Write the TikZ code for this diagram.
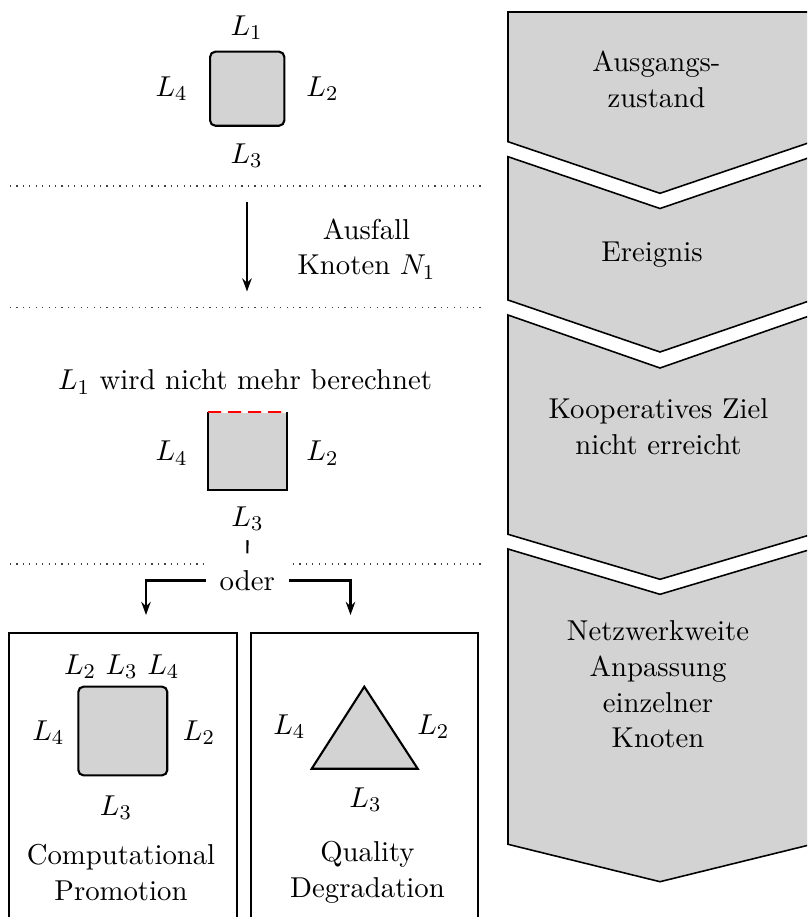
\documentclass[tikz,border=0pt]{standalone}
\usetikzlibrary{arrows.meta}
\definecolor{boxgray}{RGB}{211,211,211}
\begin{document}
\begin{tikzpicture}[x=0.381pt,y=-0.381pt,
  every node/.style={font=\fontsize{10.95}{13.6}\selectfont},
  lbl/.style={inner sep=1pt},
  txt/.style={align=center,inner sep=1pt},
  chev/.style={fill=boxgray,draw=black,line width=0.6pt,line join=miter},
  sep/.style={dotted,line width=0.45pt,black!75},
  arr/.style={line width=0.8pt,-{Stealth[length=5pt,width=3.6pt]}},
  conn/.style={line width=0.8pt},
  frame/.style={draw=black,line width=0.7pt},
  shapebox/.style={fill=boxgray,line width=0.8pt,inner sep=0pt}
]
\path[use as bounding box] (0,0) rectangle (807,917);
\clip (0,0) rectangle (807,917);

% ---------------- right column: chevrons ----------------
\draw[chev] (508,12) -- (812,12) -- (812,141.7) -- (660,193.3) -- (508,141.7) -- cycle;
\draw[chev] (508,156.7) -- (660,208.5) -- (812,156.7) -- (812,300) -- (660,352) -- (508,300) -- cycle;
\draw[chev] (508,315) -- (660,368) -- (812,315) -- (812,534.3) -- (660,579.3) -- (508,534.3) -- cycle;
\draw[chev] (508,549) -- (660,594.3) -- (812,549) -- (812,844.3) -- (660,881.7) -- (508,844.3) -- cycle;

\node[txt] (c1) at (656.5,79.5) {Ausgangs-\\zustand};
\node[txt] (c2) at (652,255) {Ereignis};
\node[txt] (c3) at (658.5,427) {Kooperatives Ziel\\nicht erreicht};
\node[txt] (c4) at (658,684.5) {Netzwerkweite\\Anpassung\\einzelner\\Knoten};

% ---------------- separators ----------------
\draw[sep] (10,186) -- (485,186);
\draw[sep] (10,307.3) -- (485,307.3);
\draw[sep] (10,564) -- (485,564);

% ---------------- initial state ----------------
\node[shapebox,draw,rounded corners=2pt,minimum width=28.3pt,minimum height=28.2pt] (sq1) at (247.2,88.7) {};
\node[lbl] (l1a) at (246.7,27.5) {$L_1$};
\node[lbl] (l4a) at (171.7,89) {$L_4$};
\node[lbl] (l2a) at (322.5,89) {$L_2$};
\node[lbl] (l3a) at (246.7,155.7) {$L_3$};

% ---------------- event ----------------
\coordinate (ev1) at (247,202);
\coordinate (ev2) at (247,291.5);
\draw[arr] (ev1) -- (ev2);
\node[txt] (ausfall) at (366.5,249) {Ausfall\\Knoten $N_1$};

% ---------------- goal not reached ----------------
\node[lbl] (title2) at (245,382) {$L_1$ wird nicht mehr berechnet};
\node[shapebox,minimum width=29.1pt,minimum height=29.1pt] (sq2) at (247.5,450.9) {};
\draw[line width=0.8pt] (sq2.north west) -- (sq2.south west) -- (sq2.south east) -- (sq2.north east);
\draw[red,line width=0.8pt,dash pattern=on 5pt off 2.6pt] (sq2.north west) -- (sq2.north east);
\node[lbl] (l4b) at (171.7,453.3) {$L_4$};
\node[lbl] (l2b) at (322.5,453.3) {$L_2$};
\node[inner sep=3.33pt] (l3b) at (247.5,519) {$L_3$};

% ---------------- branching ----------------
\node[fill=white,inner xsep=5.2pt,inner ysep=3.8pt] (oder) at (247.3,580.5) {oder};
\draw[conn,shorten >=2.5pt] (l3b.south) -- (oder.north);
\coordinate (la) at (146,615);
\coordinate (ra) at (350.5,615);
\draw[arr] (oder.west) -| (la);
\draw[arr] (oder.east) -| (ra);

% ---------------- bottom boxes ----------------
\draw[frame] (9,940) -- (9,633.3) -- (236.7,633.3) -- (236.7,940);
\draw[frame] (251,940) -- (251,633.3) -- (478.3,633.3) -- (478.3,940);

% computational promotion
\node[shapebox,draw,rounded corners=2pt,minimum width=33.9pt,minimum height=33.8pt] (sq3) at (122.8,731) {};
\node[lbl] (ltop) at (121.7,666.7) {$L_2$ $L_3$ $L_4$};
\node[lbl] (l4c) at (48.3,732.5) {$L_4$};
\node[lbl] (l2c) at (199,732.5) {$L_2$};
\node[lbl] (l3c) at (116,807.5) {$L_3$};
\node[txt] (cp) at (121,872.5) {Computational\\Promotion};

% quality degradation
\draw[fill=boxgray,line width=0.8pt,line join=miter] (364.3,686.7) -- (417.7,768.7) -- (311.7,768.7) -- cycle;
\node[lbl] (l4d) at (289.3,726.7) {$L_4$};
\node[lbl] (l2d) at (433.3,726.7) {$L_2$};
\node[lbl] (l3d) at (365.5,800) {$L_3$};
\node[txt] (qd) at (367.5,872.5) {Quality\\Degradation};
\end{tikzpicture}
\end{document}
